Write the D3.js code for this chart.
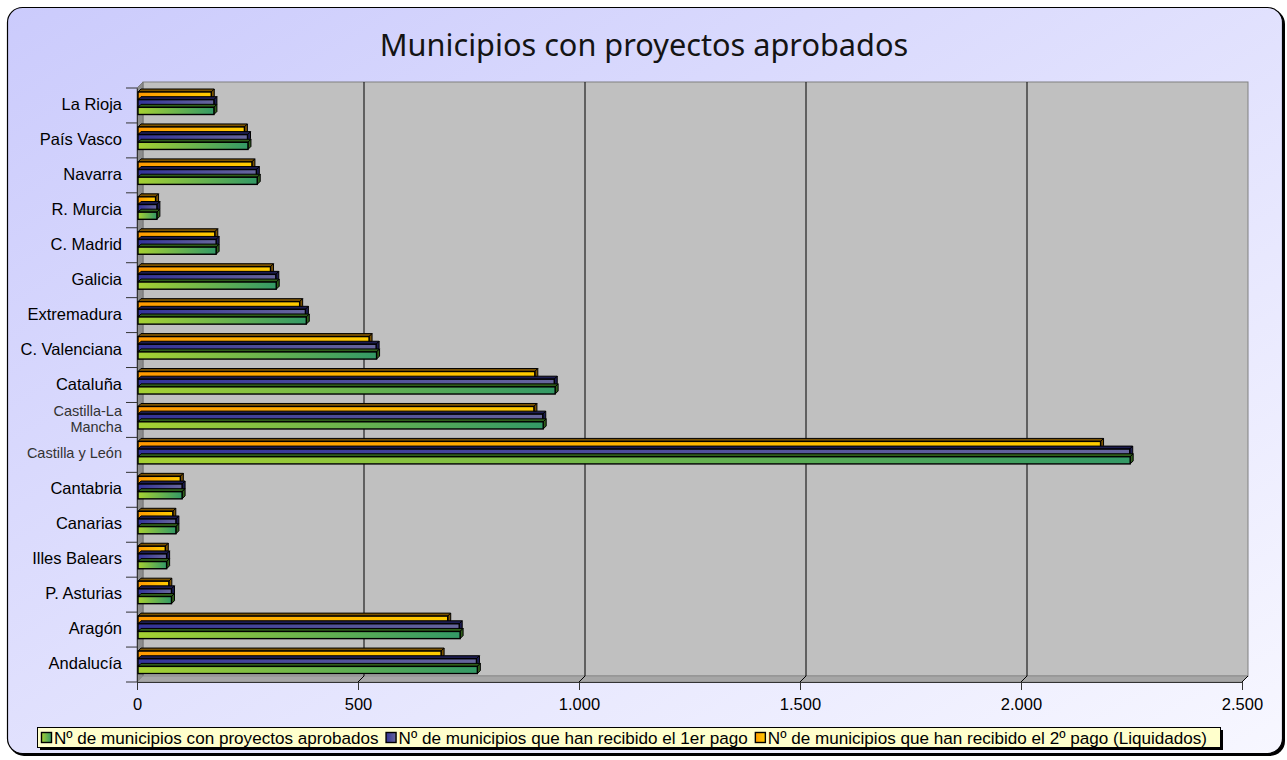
<!DOCTYPE html>
<html>
<head>
<meta charset="utf-8">
<script src="https://cdn.jsdelivr.net/npm/d3@7"></script>
<style>
  body { margin: 0; background: #fff; }
  svg { display: block; }
</style>
</head>
<body>
<svg width="1287" height="760"></svg>
<script>
// **** Data ****
var categories = ["Andalucía", "Aragón", "P. Asturias", "Illes Balears", "Canarias", "Cantabria",
    "Castilla y León", "Castilla-La Mancha", "Cataluña", "C. Valenciana", "Extremadura",
    "Galicia", "C. Madrid", "R. Murcia", "Navarra", "País Vasco", "La Rioja"];

var aprobados   = [770, 731, 78, 67, 88, 102, 2247, 919, 946, 542, 383, 315, 179, 45, 272, 251, 174];
var primerPago  = [768, 729, 78, 67, 88, 102, 2246, 918, 944, 541, 381, 314, 179, 45, 270, 250, 174];
var segundoPago = [688, 703, 72, 64, 81, 98, 2180, 898, 900, 525, 368, 302, 176, 42, 260, 243, 168];

var seriesNames = ["Nº de municipios con proyectos aprobados",
    "Nº de municipios que han recibido el 1er pago",
    "Nº de municipios que han recibido el 2º pago (Liquidados)"];

var xTicks = [0, 500, 1000, 1500, 2000, 2500];

var title = "Municipios con proyectos aprobados";

// build rows from the arrays
var series = [
    { key: "s0", name: seriesNames[0], values: aprobados,   from: "#a6d132", to: "#339966", side: "#2f5e1a" },
    { key: "s1", name: seriesNames[1], values: primerPago,  from: "#333399", to: "#66669c", side: "#1c1c50" },
    { key: "s2", name: seriesNames[2], values: segundoPago, from: "#ff9900", to: "#ffcc00", side: "#7a5200" }
];

var svg = d3.select("svg");
var defs = svg.append("defs");

// background gradient
var bg = defs.append("linearGradient").attr("id", "bg")
    .attr("x1", 0).attr("y1", 0).attr("x2", 1).attr("y2", 1);
bg.append("stop").attr("offset", "0%").attr("stop-color", "#cbcbfc");
bg.append("stop").attr("offset", "100%").attr("stop-color", "#f7f7ff");

series.forEach(function(s) {
    var g = defs.append("linearGradient").attr("id", "grad-" + s.key)
        .attr("x1", 0).attr("y1", 0).attr("x2", 1).attr("y2", 0);
    g.append("stop").attr("offset", "0%").attr("stop-color", s.from);
    g.append("stop").attr("offset", "100%").attr("stop-color", s.to);
});

// **** Frame ****
svg.append("rect")
    .attr("x", 9).attr("y", 9).attr("width", 1276).attr("height", 747)
    .attr("rx", 15).attr("fill", "#000");
svg.append("rect")
    .attr("x", 7.5).attr("y", 7.5).attr("width", 1275).attr("height", 746)
    .attr("rx", 15).attr("fill", "url(#bg)")
    .attr("stroke", "#000").attr("stroke-width", 1.2);

// title
svg.append("text")
    .attr("x", 644).attr("y", 56)
    .attr("text-anchor", "middle")
    .style("font-family", "'Noto Sans', 'Open Sans', sans-serif")
    .style("font-size", "30.7px")
    .style("fill", "#141414")
    .text(title);

// **** Scales ****
var depthX = 6, depthY = -6;

var xScale = d3.scaleLinear().domain([0, 2500]).range([137, 1242]);

var yScale = d3.scaleBand()
    .domain(categories.slice().reverse())
    .range([88, 682])
    .paddingInner(0).paddingOuter(0);

// top to bottom inside a category: 2º pago, 1er pago, aprobados
var inner = d3.scaleBand()
    .domain(["s2", "s1", "s0"])
    .range([4, 27]);

var plotTop = yScale.range()[0], plotBottom = yScale.range()[1];
var x0 = xScale.range()[0], x1 = xScale.range()[1];

// **** Walls ****
// back wall
svg.append("rect")
    .attr("x", x0 + depthX).attr("y", plotTop + depthY)
    .attr("width", x1 - x0).attr("height", plotBottom - plotTop)
    .attr("fill", "#c0c0c0")
    .attr("stroke", "#808080").attr("stroke-width", 1);

// left wall
svg.append("polygon")
    .attr("points", [[x0, plotTop], [x0 + depthX, plotTop + depthY],
        [x0 + depthX, plotBottom + depthY], [x0, plotBottom]].join(" "))
    .attr("fill", "#8c8c8c").attr("stroke", "#707070").attr("stroke-width", 0.8);

// floor
svg.append("polygon")
    .attr("points", [[x0, plotBottom], [x0 + depthX, plotBottom + depthY],
        [x1 + depthX, plotBottom + depthY], [x1, plotBottom]].join(" "))
    .attr("fill", "#a6a6a6").attr("stroke", "#8a8a8a").attr("stroke-width", 0.8);

// gridlines on back wall + floor
var grid = svg.append("g");
xTicks.slice(1).forEach(function(v) {
    var xf = xScale(v);
    if (v < 2500) {
        grid.append("line")
            .attr("x1", xf + depthX).attr("x2", xf + depthX)
            .attr("y1", plotTop + depthY).attr("y2", plotBottom + depthY)
            .attr("stroke", "#000").attr("stroke-width", 1);
    }
    grid.append("line")
        .attr("x1", xf).attr("y1", plotBottom)
        .attr("x2", xf + depthX).attr("y2", plotBottom + depthY)
        .attr("stroke", "#000").attr("stroke-width", 1);
});

// **** X axis ****
var locale = d3.formatLocale({ decimal: ",", thousands: ".", grouping: [3], currency: ["", "€"] });
var fmt = locale.format(",d");

var xAxis = d3.axisBottom(xScale)
    .tickValues(xTicks)
    .tickFormat(fmt)
    .tickSize(8)
    .tickPadding(8);

var xg = svg.append("g")
    .attr("class", "x axis")
    .attr("transform", "translate(0," + plotBottom + ")")
    .call(xAxis);
xg.select(".domain").attr("stroke", "#333");
xg.selectAll(".tick line").attr("stroke", "#333");
xg.selectAll(".tick text")
    .style("font-family", "'Liberation Sans', Arial, sans-serif")
    .style("font-size", "16.5px")
    .style("fill", "#000");

// **** Y axis ****
var yAxis = d3.axisLeft(yScale).tickSize(0).tickFormat("");
var yg = svg.append("g")
    .attr("class", "y axis")
    .attr("transform", "translate(" + x0 + ",0)")
    .call(yAxis);
yg.select(".domain").attr("stroke", "#333");

// category ticks at band boundaries
var bounds = yScale.domain().map(function(c) { return yScale(c); }).concat([plotBottom]);
svg.append("g").selectAll("line")
    .data(bounds)
    .enter().append("line")
    .attr("x1", x0 - 11).attr("x2", x0)
    .attr("y1", function(d) { return d; })
    .attr("y2", function(d) { return d; })
    .attr("stroke", "#333").attr("stroke-width", 1);

// category labels
var smallLabels = { "Castilla y León": true, "Castilla-La Mancha": true };
var labels = svg.append("g")
    .style("font-family", "'Liberation Sans', Arial, sans-serif");
categories.forEach(function(c) {
    var cy = yScale(c) + yScale.bandwidth() / 2;
    var t = labels.append("text")
        .attr("x", 122)
        .attr("text-anchor", "end")
        .style("font-size", smallLabels[c] ? "14.5px" : "16.5px")
        .style("fill", smallLabels[c] ? "#333" : "#000");
    if (c === "Castilla-La Mancha") {
        t.append("tspan").attr("x", 122).attr("y", cy - 4).text("Castilla-La");
        t.append("tspan").attr("x", 122).attr("y", cy + 12).text("Mancha");
    } else {
        t.attr("y", cy + (smallLabels[c] ? 3 : 4.5)).text(c);
    }
});

// **** Bars ****
var d = 3;
var barsG = svg.append("g");
categories.slice().reverse().forEach(function(c) {
    var ci = categories.indexOf(c);
    ["s2", "s1", "s0"].forEach(function(k) {
        var s = series.filter(function(ss) { return ss.key === k; })[0];
        var v = s.values[ci];
        var bx0 = xScale(0) + 1;
        var bx1 = xScale(v);
        var by = yScale(c) + inner(k);
        var bh = inner.bandwidth() - 0.5;
        var g = barsG.append("g");
        // top face
        g.append("polygon")
            .attr("points", [[bx0, by], [bx0 + d, by - d], [bx1 + d, by - d], [bx1, by]].join(" "))
            .attr("fill", s.side).attr("stroke", "#000").attr("stroke-width", 1)
            .attr("stroke-linejoin", "round");
        // side face
        g.append("polygon")
            .attr("points", [[bx1, by], [bx1 + d, by - d], [bx1 + d, by + bh - d], [bx1, by + bh]].join(" "))
            .attr("fill", s.side).attr("stroke", "#000").attr("stroke-width", 1)
            .attr("stroke-linejoin", "round");
        // front face
        g.append("rect")
            .attr("x", bx0).attr("y", by)
            .attr("width", bx1 - bx0).attr("height", bh)
            .attr("fill", "url(#grad-" + k + ")")
            .attr("stroke", "#000").attr("stroke-width", 1.4);
    });
});

// **** Legend ****
var leg = svg.append("g");
leg.append("rect")
    .attr("x", 40).attr("y", 730).attr("width", 1183).attr("height", 20)
    .attr("fill", "#000");
leg.append("rect")
    .attr("x", 37.5).attr("y", 727.5).attr("width", 1183).attr("height", 20)
    .attr("fill", "#ffffcc").attr("stroke", "#000").attr("stroke-width", 1);

var lx = 41;
series.forEach(function(s) {
    leg.append("rect")
        .attr("x", lx + 0.5).attr("y", 732.5).attr("width", 10).attr("height", 10)
        .attr("fill", "url(#grad-" + s.key + ")")
        .attr("stroke", "#000").attr("stroke-width", 1.4);
    var t = leg.append("text")
        .attr("x", lx + 13).attr("y", 743.5)
        .style("font-family", "'Liberation Sans', Arial, sans-serif")
        .style("font-size", "17.1px")
        .style("fill", "#000")
        .text(s.name);
    lx = lx + 13 + t.node().getComputedTextLength() + 7;
});
</script>
</body>
</html>
